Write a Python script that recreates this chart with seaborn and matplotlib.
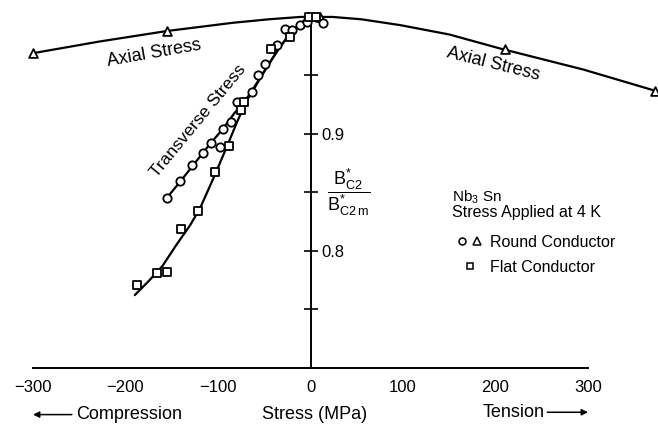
import matplotlib
matplotlib.use('Agg')
import matplotlib.pyplot as plt
import seaborn as sns
from matplotlib.legend_handler import HandlerTuple
from matplotlib.lines import Line2D

# ---------------- data ----------------
# Axial stress, round conductor (triangles)
axial_stress = [-300, -155, 10, 210, 372]
axial_bc2 = [0.969, 0.988, 1.000, 0.973, 0.937]
# Axial fitted curve samples
axial_curve_x = [-300, -228, -155, -84, -45, -11, 24, 55, 97, 150, 205, 295, 372]
axial_curve_y = [0.969, 0.979, 0.988, 0.995, 0.998, 1.000, 1.000, 0.998, 0.993, 0.985,
                 0.973, 0.955, 0.937]

# Transverse stress, round conductor (circles)
round_stress = [-155.5, -141, -128, -115.7, -107.6, -97.8, -95, -86, -79, -63.6,
                -56.4, -49, -36, -27.6, -20, -11.4, -3.5, 14]
round_bc2 = [0.845, 0.860, 0.873, 0.884, 0.892, 0.889, 0.904, 0.910, 0.927, 0.936,
             0.950, 0.960, 0.976, 0.990, 0.989, 0.993, 0.996, 0.995]
round_curve_x = [-155.5, -140, -125, -110, -95, -82, -70, -60, -48, -35, -22, -10, 0]
round_curve_y = [0.845, 0.860, 0.875, 0.890, 0.904, 0.918, 0.929, 0.941, 0.956, 0.972,
                 0.986, 0.995, 1.000]

# Transverse stress, flat conductor (squares)
flat_stress = [-188, -165.6, -155, -140, -122, -103, -88, -75.5, -71.5, -43, -22, -1.3, 6]
flat_bc2 = [0.771, 0.781, 0.782, 0.819, 0.834, 0.867, 0.890, 0.920, 0.927, 0.973,
            0.983, 1.000, 1.000]
flat_curve_x = [-190, -175, -160, -145, -130, -119, -105, -92, -80, -70, -60, -48, -35,
                -22, -10, 0]
flat_curve_y = [0.762, 0.774, 0.787, 0.805, 0.822, 0.837, 0.862, 0.886, 0.909, 0.927,
                0.940, 0.956, 0.972, 0.986, 0.995, 1.000]

x_ticks = [-300, -200, -100, 0, 100, 200, 300]
y_ticks = [0.75, 0.80, 0.85, 0.90, 0.95]
y_tick_labels = ['', '0.8', '', '0.9', '']

# ---------------- style ----------------
sns.set_theme(style='white')
plt.rcParams['font.family'] = ['Liberation Sans', 'DejaVu Sans']
plt.rcParams['mathtext.fontset'] = 'custom'
plt.rcParams['mathtext.rm'] = 'Liberation Sans'
plt.rcParams['mathtext.it'] = 'Liberation Sans'
plt.rcParams['text.color'] = 'black'
plt.rcParams['xtick.color'] = 'black'
plt.rcParams['ytick.color'] = 'black'

fig = plt.figure(figsize=(6.58, 4.25), dpi=100)
ax = fig.add_axes([0, 0, 1, 1])
ax.set_xlim(-335.7, 375.7)
ax.set_ylim(0.6509, 1.0145)

lw = 1.6
sns.lineplot(x=axial_curve_x, y=axial_curve_y, sort=False, estimator=None,
             color='black', lw=lw, ax=ax, zorder=2)
sns.lineplot(x=round_curve_x, y=round_curve_y, sort=False, estimator=None,
             color='black', lw=lw, ax=ax, zorder=2)
sns.lineplot(x=flat_curve_x, y=flat_curve_y, sort=False, estimator=None,
             color='black', lw=lw, ax=ax, zorder=2)

mk = dict(facecolor='white', edgecolor='black', linewidth=1.3, zorder=3, clip_on=False)
sns.scatterplot(x=axial_stress, y=axial_bc2, marker='^', s=40, ax=ax, **mk)
sns.scatterplot(x=round_stress, y=round_bc2, marker='o', s=36, ax=ax, **mk)
sns.scatterplot(x=flat_stress, y=flat_bc2, marker='s', s=32, ax=ax, **mk)

# ---------------- axes ----------------
ax.spines['top'].set_visible(False)
ax.spines['left'].set_visible(False)
ax.spines['right'].set_position(('data', 0))
ax.spines['right'].set_bounds(0.70, 1.0)
ax.spines['bottom'].set_position(('data', 0.70))
ax.spines['bottom'].set_bounds(-300, 300)
for s in ('right', 'bottom'):
    ax.spines[s].set_color('black')
    ax.spines[s].set_linewidth(1.4)

ax.yaxis.set_ticks_position('right')
ax.set_yticks(y_ticks)
ax.set_yticklabels(y_tick_labels)
ax.tick_params(axis='y', direction='inout', length=10, width=1.2, pad=3, labelsize=12)

ax.set_xticks(x_ticks)
ax.set_xticklabels([f'{v}'.replace('-', '\u2212') for v in x_ticks])
ax.tick_params(axis='x', direction='in', length=6, width=1.0, pad=9, labelsize=12)
ax.grid(False)

# ---------------- annotations ----------------
ax.text(-169, 0.969, 'Axial Stress', rotation=10, ha='center', va='center',
        rotation_mode='anchor', fontsize=13)
ax.text(198, 0.960, 'Axial Stress', rotation=-14, ha='center', va='center',
        rotation_mode='anchor', fontsize=13)
ax.text(-121.6, 0.911, 'Transverse Stress', rotation=50.5, ha='center', va='center',
        rotation_mode='anchor', fontsize=12.5)

ax.text(41, 0.850, r'$\dfrac{\mathrm{B}^{*}_{\mathrm{C2}}}{\mathrm{B}^{*}_{\mathrm{C2\,m}}}$',
        ha='center', va='center', fontsize=13)

ax.text(153, 0.846, r'Nb$_3$ Sn', ha='left', va='center', fontsize=11)
ax.text(153, 0.8325, 'Stress Applied at 4 K', ha='left', va='center', fontsize=11.5)

h_circ = Line2D([], [], marker='o', ls='', mfc='white', mec='black', mew=1.1, ms=5)
h_tri = Line2D([], [], marker='^', ls='', mfc='white', mec='black', mew=1.1, ms=5.5)
h_sq = Line2D([], [], marker='s', ls='', mfc='white', mec='black', mew=1.1, ms=4.5)
leg = ax.legend([(h_circ, h_tri), h_sq], ['Round Conductor', 'Flat Conductor'],
                handler_map={tuple: HandlerTuple(ndivide=None, pad=0.2)},
                loc='upper left', bbox_to_anchor=((456 - 310.5) / 0.925, 0.70 + (368 - 235) / 1170),
                bbox_transform=ax.transData, frameon=False, fontsize=11.5,
                handlelength=1.7, handletextpad=0.4, labelspacing=0.62, borderpad=0,
                borderaxespad=0)

# x-axis caption row
y_cap = 0.6598
ax.text(4.3, y_cap, 'Stress (MPa)', ha='center', va='center', fontsize=13)
ax.text(-253.5, y_cap, 'Compression', ha='left', va='center', fontsize=13)
ax.text(253.5, y_cap + 0.002, 'Tension', ha='right', va='center', fontsize=13)
arrow = dict(arrowstyle='-|>', lw=1.1, color='black', mutation_scale=9, shrinkA=0, shrinkB=0)
ax.annotate('', xy=(-300, y_cap), xytext=(-258, y_cap), arrowprops=arrow,
            annotation_clip=False)
ax.annotate('', xy=(300, y_cap + 0.002), xytext=(256, y_cap + 0.002), arrowprops=arrow,
            annotation_clip=False)

fig.savefig('out.png', dpi=100)
